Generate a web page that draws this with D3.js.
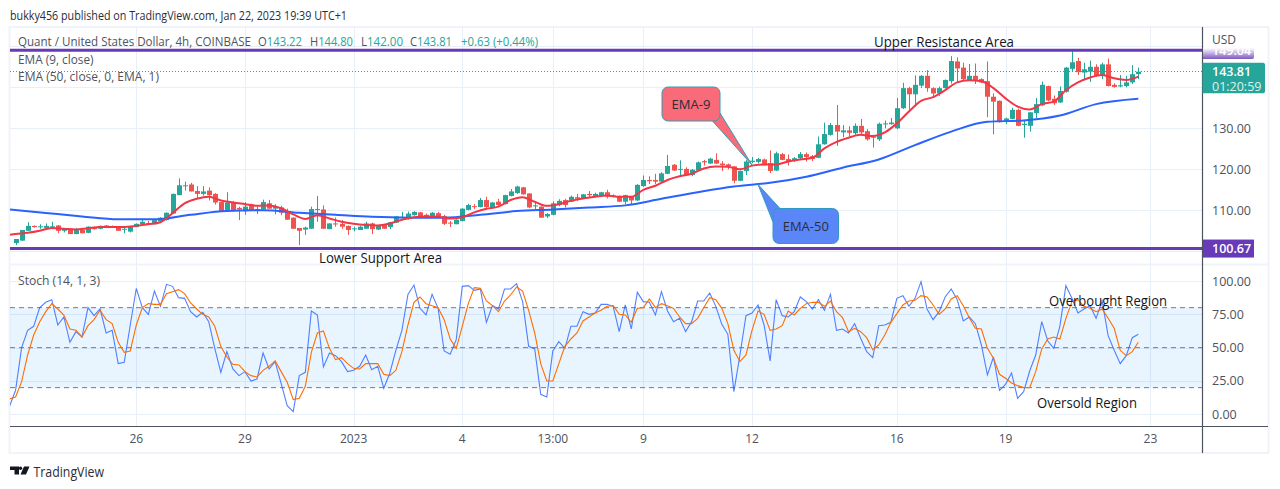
<!DOCTYPE html>
<html><head><meta charset="utf-8">
<script src="https://cdnjs.cloudflare.com/ajax/libs/d3/7.8.5/d3.min.js"></script>
<style>html,body{margin:0;padding:0;background:#fff}svg{display:block}text{font-family:"Open Sans",sans-serif}</style>
</head><body><div id="c"></div>
<script>
// ---------- data ----------
const opens=[
102.0,102.6,105.0,106.2,105.9,105.7,105.9,106.3,105.0,105.3,
104.2,105.2,104.5,105.9,105.5,106.3,105.9,105.9,105.3,104.8,
105.9,106.6,106.9,106.6,107.3,107.6,109.2,113.7,115.9,116.3,
114.7,114.0,114.8,114.0,112.0,109.8,111.9,110.6,109.8,111.3,
110.0,110.2,111.7,110.4,110.7,109.7,108.2,105.7,105.3,105.5,
110.1,110.2,105.4,106.8,106.7,106.2,105.4,105.2,105.5,106.8,
105.3,106.4,105.9,107.0,108.3,108.2,108.8,109.5,108.9,108.5,
109.3,108.6,107.0,106.6,107.4,110.1,111.0,110.8,112.5,110.6,
112.1,111.5,113.5,114.2,115.6,114.1,111.1,110.9,108.5,108.9,
111.3,112.5,112.1,113.2,112.9,114.0,113.5,113.7,114.4,113.6,
113.5,112.1,113.3,112.4,115.9,117.4,117.4,117.0,118.9,121.1,
119.9,120.1,118.6,119.7,122.0,121.4,122.3,121.4,121.2,120.7,
117.2,119.6,121.8,121.8,122.4,121.5,119.7,123.7,122.5,122.0,
122.7,123.7,123.2,122.8,126.1,128.4,130.8,129.0,129.5,128.8,
130.6,129.3,128.0,127.3,131.0,131.0,130.0,134.9,139.8,138.3,
140.4,142.8,139.8,138.5,139.8,141.5,146.3,144.8,141.8,142.8,
142.0,141.5,137.7,136.7,131.6,132.3,134.5,130.8,130.6,133.7,
135.6,140.3,137.2,136.3,138.9,144.5,146.4,143.6,143.8,145.0,
142.8,145.6,140.6,140.2,140.3,141.2,143.22];
const closes=[
103.0,105.2,106.2,105.9,106.1,106.2,106.1,105.0,105.5,104.2,
105.2,104.4,106.0,105.4,106.2,105.8,106.1,105.0,105.5,106.1,
106.7,107.2,106.7,107.6,108.2,109.4,114.0,116.1,116.1,114.6,
114.0,114.6,113.7,111.9,109.8,111.9,110.0,110.2,110.9,110.0,
110.3,112.0,110.4,110.8,109.4,107.7,105.5,105.0,105.8,110.3,
110.3,105.5,106.8,106.6,106.0,105.2,105.6,106.0,106.8,105.4,
106.2,105.5,107.1,108.5,108.4,109.2,109.6,108.3,108.3,109.4,
108.4,106.7,106.8,107.7,110.4,111.3,110.8,112.5,110.8,111.9,
111.3,113.7,114.6,115.8,113.9,110.7,111.2,108.2,109.1,111.7,
112.3,111.3,113.3,112.8,113.9,113.7,114.0,114.4,113.3,113.4,
112.1,113.7,112.4,116.2,117.4,117.1,117.0,119.0,120.8,119.7,
120.1,118.6,119.9,121.7,121.7,122.6,121.4,121.0,120.8,117.2,
119.6,121.9,122.1,122.5,121.0,119.6,123.9,122.3,122.0,122.7,
123.7,123.0,122.5,126.1,128.6,130.8,129.2,129.5,128.9,130.6,
129.0,127.3,127.7,131.1,131.2,131.4,134.9,139.8,138.3,140.6,
142.8,139.8,138.5,139.8,141.8,146.4,144.6,142.0,142.8,141.8,
141.2,137.7,136.5,131.5,132.4,134.5,130.6,131.1,133.9,135.9,
140.6,136.8,136.1,139.1,144.8,146.1,143.7,144.4,145.0,142.8,
145.6,140.3,140.1,140.5,141.2,143.2,143.81];
const highs=[
103.0,105.2,107.1,106.3,106.6,106.8,107.2,106.4,105.6,105.4,
105.7,105.2,106.1,106.0,106.3,106.4,106.3,106.0,105.9,106.1,
106.8,107.7,107.4,107.7,108.3,109.5,114.1,117.8,117.0,116.7,
115.9,115.9,115.6,114.2,112.0,114.4,112.3,110.9,112.0,111.6,
110.9,112.6,112.5,111.5,111.1,110.4,108.3,105.7,106.0,110.9,
113.5,111.2,106.8,108.2,107.6,106.3,106.0,106.2,107.2,107.0,
106.3,106.5,107.2,108.6,109.6,109.7,109.8,109.6,109.2,109.6,
109.6,108.9,107.4,107.8,110.5,111.6,111.5,113.0,113.3,112.0,
112.8,113.8,115.2,116.0,115.7,114.2,112.1,111.0,109.3,112.2,
112.7,112.8,113.6,114.0,114.0,114.7,114.3,114.5,115.0,113.9,
113.6,113.8,113.5,116.4,118.5,118.3,118.9,119.3,123.5,121.3,
122.2,120.5,120.1,121.9,122.3,122.8,123.9,122.0,121.4,120.8,
119.7,122.3,123.0,122.8,122.6,124.6,124.3,124.0,123.6,123.0,
124.2,124.1,123.5,128.0,131.4,131.3,135.7,130.8,130.5,131.2,
132.3,129.8,128.2,131.4,131.9,132.5,137.4,141.1,140.1,142.9,
143.0,144.2,140.0,140.2,141.9,147.6,147.3,146.0,145.7,145.8,
142.2,146.3,138.5,136.8,132.6,135.0,134.8,132.0,134.0,137.4,
141.4,140.4,138.0,140.2,145.0,149.1,147.2,146.0,146.5,145.6,
146.0,147.0,141.0,143.0,142.8,145.4,144.80];
const lows=[
101.5,102.6,105.0,105.8,105.5,105.5,105.8,104.4,104.6,104.2,
104.2,104.4,104.4,105.3,105.4,105.7,105.8,105.0,104.4,104.6,
105.9,106.5,106.6,106.6,107.2,107.5,109.1,113.7,114.8,114.6,
112.9,113.6,112.4,111.4,109.8,109.8,110.0,107.6,108.9,110.0,
109.1,110.2,110.4,109.0,108.8,107.7,105.5,101.5,104.0,105.5,
107.2,105.5,105.4,106.0,105.5,104.0,104.9,105.2,105.5,104.2,
105.2,105.5,105.4,106.9,108.0,107.7,108.7,108.2,108.0,108.4,
108.2,106.4,105.9,106.6,107.3,110.0,110.3,110.7,110.5,110.5,
111.0,111.4,113.4,114.0,113.8,110.5,110.3,108.2,108.1,108.8,
111.0,110.7,112.0,112.3,112.8,113.0,113.2,113.6,112.9,113.2,
112.0,111.5,111.5,112.3,115.7,116.4,116.4,116.7,118.8,119.6,
118.6,118.6,118.3,119.6,120.9,121.3,121.3,119.6,120.0,116.6,
117.1,118.6,121.5,121.5,121.0,119.1,119.6,122.2,120.9,121.8,
122.5,121.9,122.0,122.7,126.0,128.2,125.7,127.8,128.0,128.4,
128.6,127.0,125.3,126.9,130.0,130.9,129.8,134.7,134.2,135.3,
139.8,138.9,137.7,137.9,139.7,140.9,141.2,141.6,141.6,140.8,
141.0,132.7,128.5,131.4,131.0,132.2,130.5,127.7,129.2,132.5,
135.4,136.6,135.7,136.2,138.7,144.0,143.0,141.7,141.3,142.6,
142.0,140.2,139.9,140.0,140.0,140.8,142.00];

// EMA-9: first point just before the first candle, then every second candle
const ema9Idx=[-1,...d3.range(0,187,2)];
const ema9=[104.0,
104.2,104.5,105.0,105.7,105.5,105.3,105.6,105.9,105.9,105.9,
106.2,106.6,107.1,109.3,111.7,112.8,113.3,112.4,111.9,111.5,
111.1,111.2,110.5,109.0,107.9,108.8,108.0,107.2,106.7,106.4,
106.3,106.8,107.7,108.3,108.5,108.4,108.0,108.3,109.5,110.4,
110.9,112.5,113.2,112.1,111.1,111.5,112.3,112.9,113.3,113.6,
113.3,113.3,115.0,116.0,117.4,118.3,118.9,120.2,120.7,120.6,
120.0,120.9,121.2,121.2,121.9,122.4,122.8,125.1,126.7,127.7,
128.4,128.1,129.0,131.2,134.1,136.7,137.6,139.3,141.2,141.7,
141.5,139.8,137.3,135.3,134.6,135.9,136.5,139.3,141.2,142.4,
143.0,142.2,141.8,142.6];
// EMA-50: one reading per day
const ema50Idx=[-1,5,11,17,23,29,35,41,47,53,59,65,71,77,83,89,95,101,107,113,119,125,131,137,143,149,155,161,167,173,179,186];
const ema50=[110.2,109.35,108.5,107.8,107.8,108.9,109.8,110.0,109.4,108.9,108.4,108.2,108.2,108.9,109.8,110.2,110.7,111.2,112.8,114.4,115.8,116.7,118.2,120.4,122.4,125.9,129.2,131.6,131.9,133.1,135.9,137.2];

// Stochastic, starting one bar before the first candle
const stochK=[6,
18,50,63,66,80,84,86,67,73,54,
62,58,80,74,79,61,63,38,39,67,
94.5,80,75,92.5,81,97.5,96,87.5,87,77,
73,76.5,69.5,49.5,31.5,47,34,29,32,25,
26.5,46,34,39.5,23,6.5,2,29,31.5,77.5,
74.5,35.5,46,44,39.5,32,33,36,44.5,33.5,
36,19.5,31,48,63,90,97,79.5,74.5,90,
79.5,47.5,45,56,96,96.5,93,94,69,81.5,
79,94,94,98,84.5,51,49,15,13,47.5,
54.5,49.5,66,66,77,75,76,82.5,82.5,81,
62,82,64,91.5,84.5,84,74.5,92,77.5,69.5,
72,62,69.5,85,85,91,81,67.5,60,17,
44.5,74,76,82,67,40,86,74,73,77,
88,84.5,79,86,78,90,63,64,61,68,
57,47,42.5,66.5,67,69,87,89,81,87,
99.5,79,71,77,88,94,86,70,73,68,
52,29.5,43,18,22.5,31,12,17,32.5,44.5,
69.5,55,49.5,66,96.5,87,76,79,81.5,72,
85,59,48,38,44,57.5,60];
const stochD=[11.5,
13,24.5,44.5,59.5,69.5,77,83,79,74.5,64,
63,58,66.5,71,78,71,68,54,46.5,47.5,
67,80,83,82.5,82.5,90.5,92,93.5,90.5,83.5,
79,75,73,66,51,43,37.5,37,32,29,
28,33,36,40,32,24,11,12,21,46.5,
61,62.5,49.5,41,42.5,38,34.5,34,38,38,
38,30,29,33,47,67,84,88,83,81.5,
80,71,56.5,49.5,66,83,95,94.5,85,81.5,
77,85,89.5,95.5,92.5,78,61,38,25,25,
38,51,56.5,61,70,73,76,78,81,81.5,
75,74.5,69,79.5,80,86.5,80,83,81.5,79.5,
73,68,68,72,80,87.5,86,79.5,68,48,
39.5,44.5,63,77.5,75,63,64,66.5,77.5,74.5,
79.5,83,84,84,81,85,77,72.5,62,64.5,
62,57.5,48.5,52,59.5,69,75.5,82,85,85.5,
89,88,82,75,79,86.5,89,81.5,72.5,64.5,
64,49.5,42,30,27,23.5,21.5,20,20,32,
49,56.5,58,56.5,72,84.5,86,81,79.5,77,
79,72,64.5,48,44,47,54];

const priceTicks=[110,120,130];
const priceGrid=[100,110,120,130,140,150];
const stochTicks=[100,75,50,25,0];
const stochLevels=[80,50,20];
const resistance=149.04, support=100.67, lastPrice=143.81, countdown="01:20:59";
const timeIdx=[20,38,56,74,89,104,122,146,164,188];
const timeLabels=["26","29","2023","4","13:00","9","12","16","19","23"];
const legendOHLC=[["O","143.22",258,44],["H","144.80",310,43],["L","142.00",361,42],["C","143.81",410,42]];

// ---------- scales ----------
const W=1280,H=489,L=10,R=1202.5;
const x=d3.scaleLinear().domain([20,188]).range([136.3,1150.4]);
const y=d3.scaleLinear().domain([100,150]).range([251.3,46.3]);
const ys=d3.scaleLinear().domain([0,100]).range([414.3,281]);

const svg=d3.select("#c").append("svg").attr("width",W).attr("height",H);
const defs=svg.append("defs");
defs.append("clipPath").attr("id","main").append("rect").attr("x",L).attr("y",28).attr("width",R-L).attr("height",235);
defs.append("clipPath").attr("id","low").append("rect").attr("x",L).attr("y",266).attr("width",R-L).attr("height",160);
defs.append("clipPath").attr("id","tag").append("rect").attr("x",R).attr("y",49).attr("width",60).attr("height",10);
const g=defs.append("linearGradient").attr("id","fade").attr("x1",0).attr("x2",0).attr("y1",0).attr("y2",1);
g.append("stop").attr("offset",0).attr("stop-color","#fff");
g.append("stop").attr("offset",1).attr("stop-color","#7e57c2");

const FR="#f0f3fa",GRID="#e9eff6",AX="#4c525e",TXT="#131722",UP="#26a69a",DN="#ef5350",PUR="#673ab7";
const FONT2="Lato,sans-serif";

// frame
svg.append("rect").attr("x",9.5).attr("y",27).attr("width",1259).attr("height",426).attr("fill","#fff").attr("stroke",FR).attr("stroke-width",2);
svg.append("line").attr("x1",L).attr("x2",1268).attr("y1",264.5).attr("y2",264.5).attr("stroke",FR).attr("stroke-width",2);

// grid
const gridG=svg.append("g").attr("stroke",GRID).attr("stroke-width",1);
gridG.selectAll(".v").data(timeIdx).join("line").attr("x1",d=>Math.round(x(d))+.5).attr("x2",d=>Math.round(x(d))+.5).attr("y1",28).attr("y2",426);
gridG.selectAll(".h").data(priceGrid).join("line").attr("x1",L).attr("x2",R).attr("y1",d=>Math.round(y(d))+.5).attr("y2",d=>Math.round(y(d))+.5);
gridG.selectAll(".hs").data(stochTicks).join("line").attr("x1",L).attr("x2",R).attr("y1",d=>Math.round(ys(d))+.5).attr("y2",d=>Math.round(ys(d))+.5);

// stochastic pane
const low=svg.append("g").attr("clip-path","url(#low)");
low.append("rect").attr("x",L).attr("width",R-L).attr("y",ys(80)).attr("height",ys(20)-ys(80)).attr("fill","#2196f3").attr("opacity",.1);
low.selectAll(".lvl").data(stochLevels).join("line").attr("x1",L).attr("x2",R).attr("y1",d=>ys(d)).attr("y2",d=>ys(d))
  .attr("stroke","#787b86").attr("stroke-dasharray","5 4");
const lineS=d3.line().x((d,i)=>x(i-1)).y(d=>ys(d));
low.append("path").attr("d",lineS(stochK)).attr("fill","none").attr("stroke","#2962ff").attr("stroke-width",1.1).attr("opacity",.8);
low.append("path").attr("d",lineS(stochD)).attr("fill","none").attr("stroke","#ff6d00").attr("stroke-width",1.1);

// price pane
const main=svg.append("g").attr("clip-path","url(#main)");
main.append("line").attr("x1",L).attr("x2",R).attr("y1",Math.floor(y(lastPrice))+.5).attr("y2",Math.floor(y(lastPrice))+.5)
  .attr("stroke",UP).attr("stroke-dasharray","1 2");
const bars=d3.range(opens.length);
main.selectAll(".w").data(bars).join("line").attr("x1",i=>Math.round(x(i))+.5).attr("x2",i=>Math.round(x(i))+.5)
  .attr("y1",i=>y(highs[i])).attr("y2",i=>y(lows[i])).attr("stroke",i=>closes[i]>=opens[i]?UP:DN);
main.selectAll(".b").data(bars).join("rect").attr("x",i=>Math.round(x(i))-2).attr("width",5)
  .attr("y",i=>y(Math.max(opens[i],closes[i]))).attr("height",i=>Math.max(1,Math.abs(y(opens[i])-y(closes[i]))))
  .attr("fill",i=>closes[i]>=opens[i]?UP:DN);
const curve=d3.curveMonotoneX;
main.append("path").attr("d",d3.line().curve(curve).x((d,i)=>x(ema50Idx[i])).y(d=>y(d))(ema50)).attr("fill","none").attr("stroke","#2962ff").attr("stroke-width",2);
main.append("path").attr("d",d3.line().curve(curve).x((d,i)=>x(ema9Idx[i])).y(d=>y(d))(ema9)).attr("fill","none").attr("stroke","#f23645").attr("stroke-width",2);

// resistance & support
[resistance,support].forEach(v=>svg.append("line").attr("x1",L).attr("x2",R).attr("y1",y(v)).attr("y2",y(v)).attr("stroke",PUR).attr("stroke-width",3));

// callouts
function callout(r,tipI,tipV,base,fill,stroke,label){
  const tx=x(tipI),ty=y(tipV);
  svg.append("path").attr("fill",fill).attr("stroke",stroke).attr("stroke-width",1).attr("d",
    `M${tx},${ty}L${base[0][0]},${base[0][1]}L${base[1][0]},${base[1][1]}Z`);
  svg.append("rect").attr("x",r.x).attr("y",r.y).attr("width",r.w).attr("height",r.h).attr("rx",6).attr("fill",fill).attr("stroke",stroke);
  svg.append("path").attr("fill",fill).attr("d",`M${base[0][0]},${base[0][1]}L${base[1][0]},${base[1][1]}L${(base[0][0]+base[1][0])/2+(tx>base[0][0]?-3:3)},${(base[0][1]+base[1][1])/2+(ty>base[0][1]?-3:3)}Z`);
  svg.append("text").attr("x",r.x+r.w/2).attr("y",r.y+r.h/2+4.5).attr("text-anchor","middle").attr("font-size",13).attr("fill","#2a2e39").text(label);
}
callout({x:662,y:87,w:58,h:34},122,121.05,[[720,113],[712.5,121]],"#f96b78","#3a9ab0","EMA-9");
callout({x:773,y:208.5,w:65.5,h:35},123,116.3,[[773,222],[780,208.5]],"#5b86f7","#2d9bc4","EMA-50");

// price axis
svg.append("line").attr("x1",R).attr("x2",R).attr("y1",27).attr("y2",453).attr("stroke",AX).attr("stroke-width",1.2);
svg.append("line").attr("x1",L).attr("x2",1268).attr("y1",426.5).attr("y2",426.5).attr("stroke",AX).attr("stroke-width",1.2);
const rt=svg.append("g").attr("font-size",12.5).attr("fill",AX);
rt.selectAll(".p").data(priceTicks).join("text").attr("x",1212).attr("y",d=>y(d)+4.5).text(d=>d.toFixed(2));
rt.selectAll(".s").data(stochTicks).join("text").attr("x",1212).attr("y",d=>ys(d)+4.5).text(d=>d.toFixed(2));
svg.append("text").attr("x",1212).attr("y",44).attr("font-size",12).attr("fill",AX).text("USD");

// level tags
svg.append("path").attr("fill","url(#fade)").attr("d","M"+(R+.5)+",48h51v9q0,2 -2,2h-49z");
svg.append("g").attr("clip-path","url(#tag)").append("text").attr("x",1212).attr("y",y(resistance)+4.5).attr("font-size",12.5).attr("font-weight",600).attr("fill","#fff").text(resistance.toFixed(2));
svg.append("rect").attr("x",R+.5).attr("y",y(support)-9).attr("width",51).attr("height",18).attr("fill",PUR);
svg.append("text").attr("x",1212).attr("y",y(support)+4.5).attr("font-size",12.5).attr("font-weight",600).attr("fill","#fff").text(support.toFixed(2));
svg.append("path").attr("fill",UP).attr("d",`M${R},${y(lastPrice)-9}H${1263}q2,0 2,2V${y(lastPrice)+19.5}q0,2 -2,2H${R}Z`);
svg.append("text").attr("x",1212).attr("y",y(lastPrice)+4.5).attr("font-size",12.5).attr("font-weight",600).attr("fill","#fff").text(lastPrice.toFixed(2));
svg.append("text").attr("x",1212).attr("y",y(lastPrice)+19).attr("font-size",12.5).attr("fill","#fff").attr("opacity",.85).text(countdown);

// time axis
svg.append("g").selectAll("text").data(timeIdx).join("text").attr("x",d=>x(d)).attr("y",443).attr("text-anchor","middle")
  .attr("font-size",12).attr("fill",AX).text((d,i)=>timeLabels[i]);

// legend and notes: width of each string
const T=(s,xx,yy,wid,fill,size)=>svg.append("text").attr("x",xx).attr("y",yy).attr("font-size",size||13).attr("font-family",FONT2)
  .attr("fill",fill||"#50535e").attr("textLength",wid).attr("lengthAdjust","spacingAndGlyphs").text(s);
T("bukky456 published on TradingView.com, Jan 22, 2023 19:39 UTC+1",10,20,337,"#2a2e39");
T("Quant / United States Dollar, 4h, COINBASE",18,46,233);
legendOHLC.forEach(d=>{
  const t=T("",d[2],46,d[3]);
  t.append("tspan").text(d[0]);
  t.append("tspan").attr("fill",UP).text(d[1]);
});
T("+0.63 (+0.44%)",461,46,77,UP);
T("EMA (9, close)",18,63.5,75.5);
T("EMA (50, close, 0, EMA, 1)",18,80.5,141);
T("Stoch (14, 1, 3)",18,285,82);
T("Upper Resistance Area",874,47,140,TXT,14);
T("Lower Support Area",319,263,123,TXT,14);
T("Overbought Region",1049,306,118,TXT,14);
T("Oversold Region",1037,408,100,TXT,14);

// logo
svg.append("path").attr("fill","#131722").attr("d","M10 466.5h9v8h-4.5v-4.5h-4.5zM24 466.5h5.5l-3.5 8h-5.5z");
svg.append("circle").attr("cx",20.5).attr("cy",468.2).attr("r",1.7).attr("fill","#131722");
T("TradingView",33.5,476.5,70.5,"#2a2e39",14);
</script></body></html>
